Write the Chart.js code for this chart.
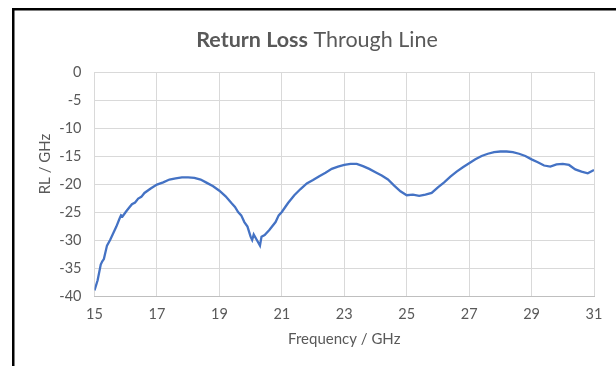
<!DOCTYPE html>
<html>
<head>
<meta charset="utf-8">
<title>Return Loss Through Line</title>
<script src="https://cdn.jsdelivr.net/npm/chart.js@4.4.1/dist/chart.umd.min.js"></script>
<style>
  html, body { margin: 0; padding: 0; background: #ffffff; }
  #wrap { position: relative; width: 616px; height: 366px; }
</style>
</head>
<body>
<div id="wrap"><canvas id="myChart" width="616" height="366"></canvas></div>
<script>
// Datos medidos: frecuencia (GHz) y return loss (dB)
const frecuencias = [
  15.0, 15.1, 15.2, 15.25, 15.3, 15.4, 15.5, 15.6, 15.7, 15.8, 15.85, 15.9, 16.0,
  16.1, 16.2, 16.3, 16.4, 16.5, 16.6, 16.8, 17.0, 17.2, 17.4, 17.6, 17.8, 18.0,
  18.2, 18.4, 18.6, 18.8, 19.0, 19.2, 19.4, 19.5, 19.6, 19.7, 19.8, 19.9,
  20.0, 20.05, 20.1, 20.2, 20.3, 20.35, 20.45, 20.6, 20.8, 20.9, 21.0,
  21.1, 21.2, 21.4, 21.6, 21.8, 22.0, 22.2, 22.4, 22.6, 22.8, 23.0,
  23.2, 23.4, 23.6, 23.8, 24.0, 24.2, 24.4, 24.6, 24.8, 25.0,
  25.2, 25.4, 25.6, 25.8, 26.0, 26.2, 26.4, 26.6, 26.8, 27.0,
  27.2, 27.4, 27.6, 27.8, 28.0, 28.2, 28.4, 28.6, 28.8, 29.0,
  29.2, 29.4, 29.6, 29.8, 30.0, 30.2, 30.4, 30.6, 30.8, 31.0
];
const returnLoss = [
  -39.0, -37.2, -34.4, -33.8, -33.4, -31.0, -30.0, -28.8, -27.6, -26.2, -25.6, -25.8, -25.0,
  -24.3, -23.6, -23.3, -22.6, -22.3, -21.6, -20.8, -20.1, -19.7, -19.2, -19.0, -18.8, -18.8,
  -18.9, -19.2, -19.8, -20.4, -21.2, -22.2, -23.5, -24.1, -25.0, -25.6, -26.8, -27.6,
  -29.4, -30.0, -29.0, -30.0, -31.0, -29.4, -29.1, -28.2, -26.8, -25.6, -25.0,
  -24.2, -23.4, -22.0, -20.9, -19.9, -19.3, -18.6, -18.0, -17.3, -16.9, -16.6,
  -16.4, -16.4, -16.8, -17.3, -17.9, -18.5, -19.2, -20.3, -21.3, -22.0,
  -21.9, -22.1, -21.9, -21.6, -20.6, -19.7, -18.7, -17.8, -17.0, -16.3,
  -15.6, -15.0, -14.6, -14.3, -14.2, -14.2, -14.3, -14.6, -15.0, -15.6,
  -16.1, -16.7, -16.9, -16.5, -16.4, -16.6, -17.4, -17.8, -18.1, -17.5
];
const ticksX = [15, 17, 19, 21, 23, 25, 27, 29, 31];
const ticksY = [0, -5, -10, -15, -20, -25, -30, -35, -40];

const gris = "#595959";
const fuente = "Lato, 'Open Sans', sans-serif";

// Marco negro (solo arriba e izquierda), titulo con parte en negrita y titulo del eje Y
const marcoYTitulo = {
  id: "marcoYTitulo",
  beforeDraw(chart) {
    const ctx = chart.ctx;
    ctx.save();
    ctx.fillStyle = "#ffffff";
    ctx.fillRect(0, 0, chart.width, chart.height);
    ctx.fillStyle = "#000000";
    ctx.fillRect(12, 8, chart.width - 12, 2.5);
    ctx.fillRect(12, 8, 2.5, chart.height - 8);
    ctx.restore();
  },
  afterDraw(chart) {
    const ctx = chart.ctx;
    ctx.save();
    ctx.fillStyle = gris;
    ctx.textBaseline = "alphabetic";
    const negrita = "bold 21.5px " + fuente;
    const normal = "21.5px " + fuente;
    const t1 = "Return Loss";
    const t2 = " Through Line";
    ctx.font = negrita;
    const w1 = ctx.measureText(t1).width;
    ctx.font = normal;
    const w2 = ctx.measureText(t2).width;
    const x0 = 317 - (w1 + w2) / 2;
    ctx.font = negrita;
    ctx.fillText(t1, x0, 47);
    ctx.font = normal;
    ctx.fillText(t2, x0 + w1, 47);

    // titulo eje Y, girado
    ctx.translate(45, 164);
    ctx.rotate(-Math.PI / 2);
    ctx.font = "15px " + fuente;
    ctx.textAlign = "center";
    ctx.textBaseline = "middle";
    ctx.fillText("RL / GHz", 0, 0);
    ctx.restore();
  }
};

function drawLossChart(_x, _y, _element) {
  const puntos = _x.map((f, i) => ({ x: f, y: _y[i] }));
  const data = {
    datasets: [{
      label: "RL",
      data: puntos,
      borderColor: "#4472C4",
      borderWidth: 2.3,
      pointRadius: 0,
      tension: 0,
      fill: false
    }]
  };
  const config = {
    type: "line",
    data: data,
    options: {
      responsive: false,
      animation: false,
      layout: { padding: { left: 0, top: 72, right: 22, bottom: 0 } },
      plugins: { legend: { display: false }, tooltip: { enabled: false } },
      scales: {
        x: {
          type: "linear",
          min: 15, max: 31,
          afterBuildTicks: (s) => { s.ticks = ticksX.map(v => ({ value: v })); },
          afterFit: (s) => { s.height = 70; },
          grid: { color: "#d9d9d9", lineWidth: 1, drawTicks: false },
          border: { color: "#bfbfbf", width: 1 },
          ticks: { color: gris, font: { family: fuente, size: 14.5 }, padding: 10, maxRotation: 0 },
          title: { display: true, text: "Frequency / GHz", color: gris,
                   font: { family: fuente, size: 15 }, padding: { top: 18, bottom: 18 } }
        },
        y: {
          min: -40, max: 0,
          afterBuildTicks: (s) => { s.ticks = ticksY.map(v => ({ value: v })); },
          afterFit: (s) => { s.width = 94.5; },
          grid: { color: "#d9d9d9", lineWidth: 1, drawTicks: false },
          border: { display: false },
          ticks: { color: gris, font: { family: fuente, size: 14.5 }, padding: 13 }
        }
      }
    },
    plugins: [marcoYTitulo]
  };
  return new Chart(_element, config);
}

drawLossChart(frecuencias, returnLoss, document.getElementById("myChart"));
</script>
</body>
</html>
